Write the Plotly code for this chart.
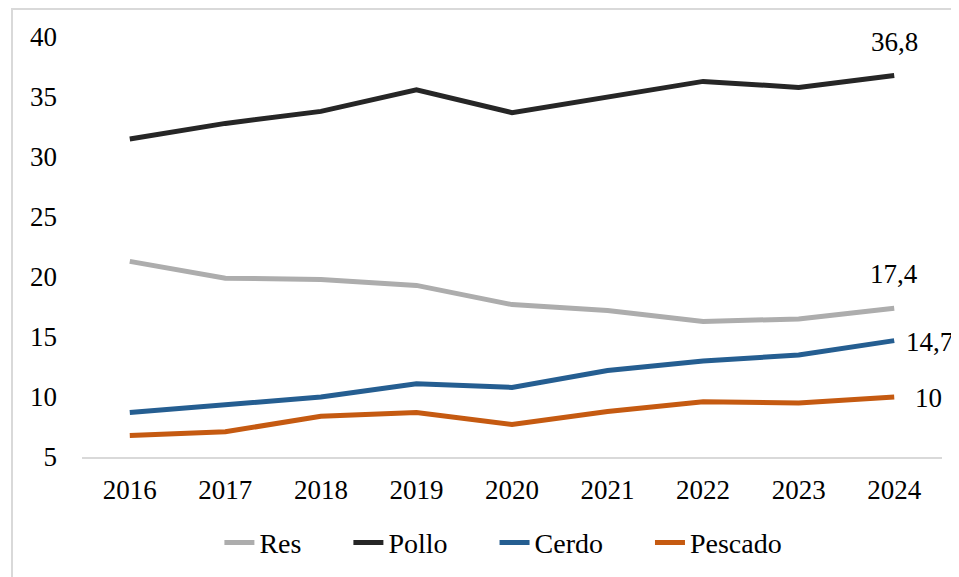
import plotly.graph_objects as go

# Datos
anios = [2016, 2017, 2018, 2019, 2020, 2021, 2022, 2023, 2024]
res = [21.3, 19.9, 19.8, 19.3, 17.7, 17.2, 16.3, 16.5, 17.4]
pollo = [31.5, 32.8, 33.8, 35.6, 33.7, 35.0, 36.3, 35.8, 36.8]
cerdo = [8.7, 9.4, 10.0, 11.1, 10.8, 12.2, 13.0, 13.5, 14.7]
pescado = [6.8, 7.1, 8.4, 8.7, 7.7, 8.8, 9.6, 9.5, 10.0]
etiquetas_finales = ["17,4", "36,8", "14,7", "10"]

series = [
    ("Res", res, "#ADADAD"),
    ("Pollo", pollo, "#262626"),
    ("Cerdo", cerdo, "#255E91"),
    ("Pescado", pescado, "#C55A11"),
]

# desplazamiento de cada etiqueta final (px)
offsets = {
    "Res": dict(xshift=0, yshift=34, xanchor="center"),
    "Pollo": dict(xshift=0, yshift=33, xanchor="center"),
    "Cerdo": dict(xshift=10, yshift=-1, xanchor="left"),
    "Pescado": dict(xshift=19, yshift=-1, xanchor="left"),
}

fuente = "Liberation Serif, Times New Roman, serif"
relleno = "\u00a0" * 6  # espacio extra entre elementos de la leyenda

fig = go.Figure()
for i, ((nombre, valores, color), etiqueta) in enumerate(zip(series, etiquetas_finales)):
    fig.add_trace(go.Scatter(
        x=anios, y=valores, mode="lines",
        name=nombre + (relleno if i < len(series) - 1 else ""),
        line=dict(color=color, width=5),
    ))
    fig.add_annotation(
        x=anios[-1], y=valores[-1], text=etiqueta, showarrow=False,
        font=dict(size=27, color="black", family=fuente),
        **offsets[nombre]
    )

# marco del gráfico (derecha y abajo quedan fuera de la imagen)
fig.add_shape(type="rect", xref="paper", yref="paper",
              x0=-0.0814, x1=1.1, y0=-0.4, y1=1.0667,
              line=dict(color="#D9D9D9", width=2), layer="below")

# la página añade 8 px de margen al body: se compensa aquí
fig.update_layout(
    width=951, height=569,
    margin=dict(l=74, r=17, t=29, b=120),
    plot_bgcolor="white",
    paper_bgcolor="white",
    font=dict(family=fuente, size=27, color="black"),
    showlegend=True,
    legend=dict(
        orientation="h", x=0.49, xanchor="center",
        yref="container", y=0.06, yanchor="middle",
        font=dict(size=28),
    ),
)
fig.update_xaxes(
    range=[2015.5, 2024.5], tickvals=anios, ticktext=[str(a) for a in anios],
    showgrid=False, zeroline=False, showline=True,
    linecolor="#D9D9D9", linewidth=2, ticks="", ticklabelstandoff=8,
)
fig.update_yaxes(
    range=[5, 40], dtick=5, showgrid=False, zeroline=False,
    showline=False, ticks="", ticklabelstandoff=24,
)

fig.write_html("out.html")
